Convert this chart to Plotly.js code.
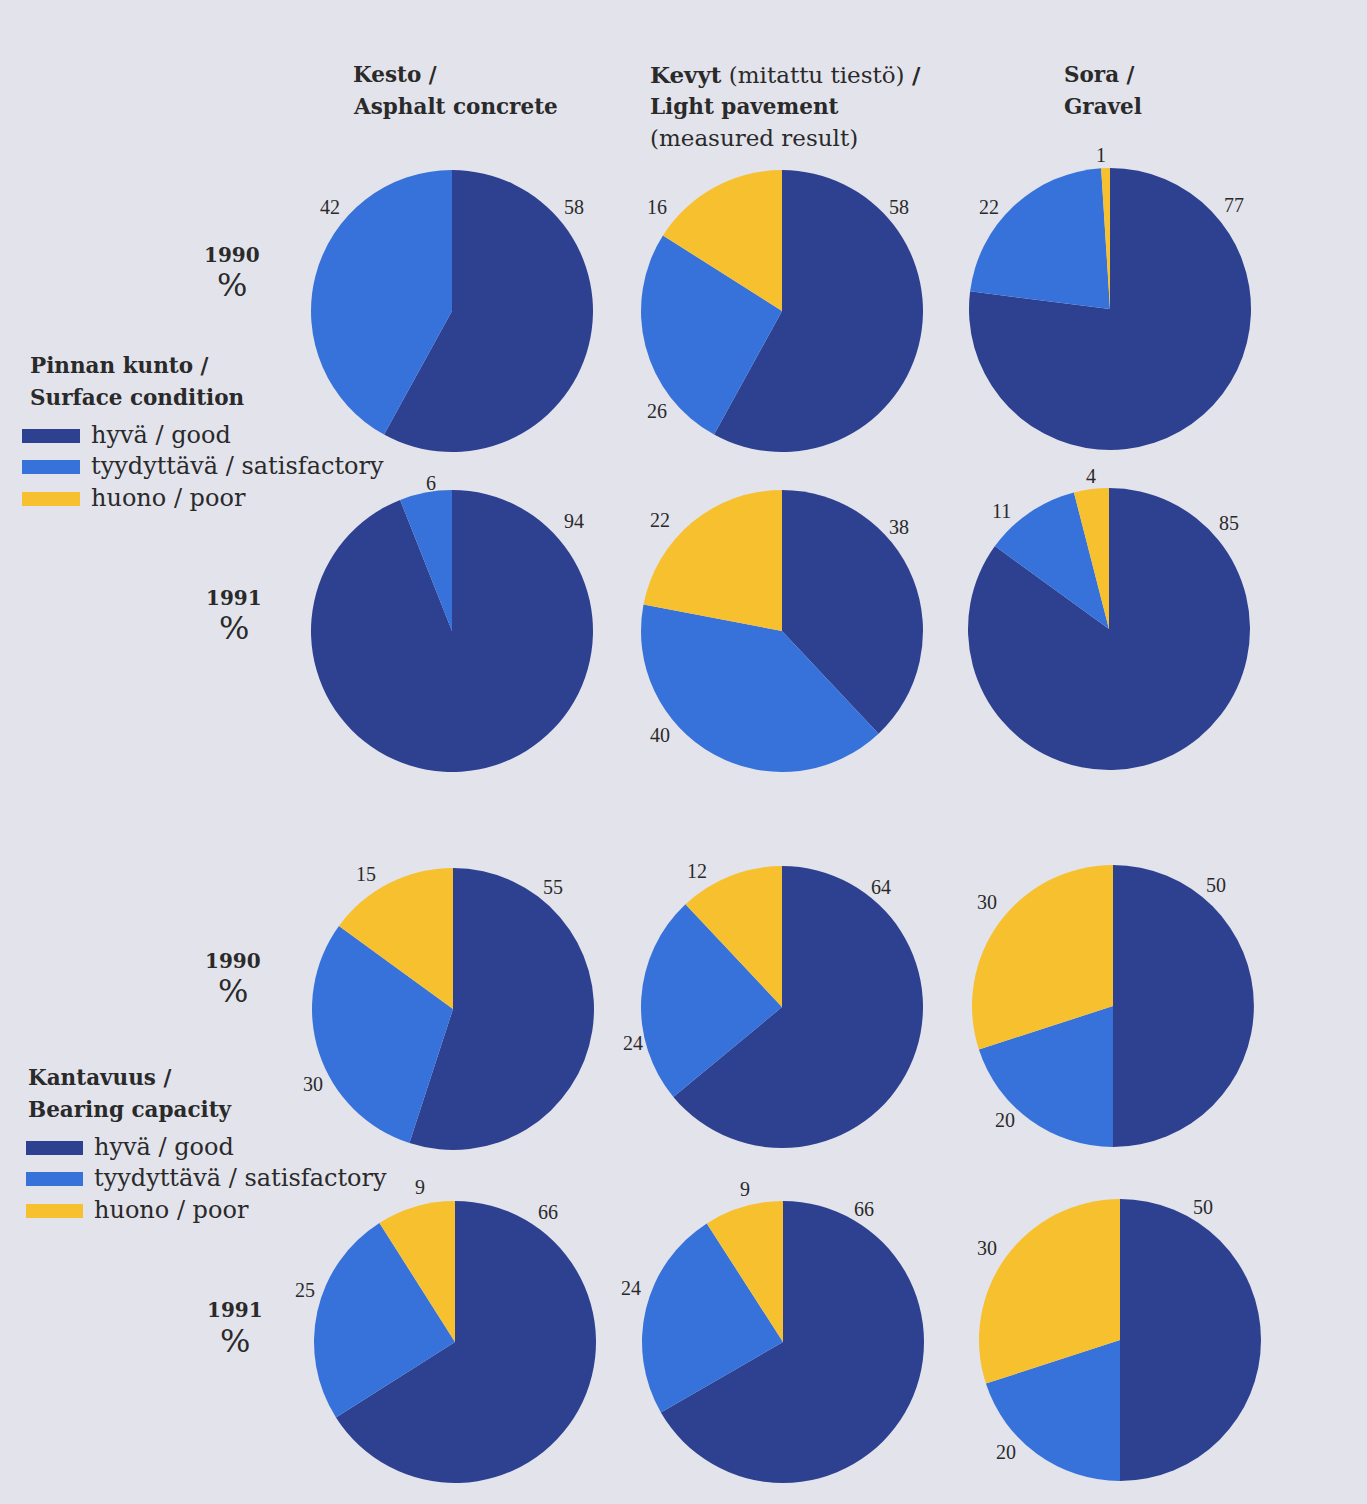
<!DOCTYPE html>
<html>
<head>
<meta charset="utf-8">
<script src="https://cdn.plot.ly/plotly-3.0.1.min.js"></script>
<style>
html,body{margin:0;padding:0;background:#e3e3ec;}
#chart{width:1367px;height:1504px;}
</style>
</head>
<body>
<div id="chart"></div>
<script>
// ---------- DATA ----------
const categories = ["hyvä / good", "tyydyttävä / satisfactory", "huono / poor"];
const roadTypes = ["Kesto", "Kevyt", "Sora"];
const years = ["1990", "1991"];

// Pinnan kunto / Surface condition  [good, satisfactory, poor]
const surface1990Kesto = [58, 42, 0];
const surface1990Kevyt = [58, 26, 16];
const surface1990Sora  = [77, 22, 1];
const surface1991Kesto = [94, 6, 0];
const surface1991Kevyt = [38, 40, 22];
const surface1991Sora  = [85, 11, 4];

// Kantavuus / Bearing capacity  [good, satisfactory, poor]
const bearing1990Kesto = [55, 30, 15];
const bearing1990Kevyt = [64, 24, 12];
const bearing1990Sora  = [50, 20, 30];
const bearing1991Kesto = [66, 25, 9];
const bearing1991Kevyt = [66, 24, 9];
const bearing1991Sora  = [50, 20, 30];

// ---------- LAYOUT / STYLE ----------
const W = 1367, H = 1504;
const colors = ["#2e4190", "#3672da", "#f7c02f"];
const serif = "Liberation Serif, Times New Roman, serif";
const wide = "DejaVu Serif, serif";
const textCol = "#2a2a2a";

// pie centres (px) and radius
const R = 141;
const pies = [
  {v: surface1990Kesto, c: [452, 311], lab: [[574,207],[330,207],null]},
  {v: surface1990Kevyt, c: [782, 311], lab: [[899,207],[657,411],[657,207]]},
  {v: surface1990Sora,  c: [1110, 309], lab: [[1234,205],[989,207],[1101,155]]},
  {v: surface1991Kesto, c: [452, 631], lab: [[574,521],[431,483],null]},
  {v: surface1991Kevyt, c: [782, 631], lab: [[899,527],[660,735],[660,520]]},
  {v: surface1991Sora,  c: [1109, 629], lab: [[1229,523],[1001,511],[1091,476]]},
  {v: bearing1990Kesto, c: [453, 1009], lab: [[553,887],[313,1084],[366,874]]},
  {v: bearing1990Kevyt, c: [782, 1007], lab: [[881,887],[633,1043],[697,871]]},
  {v: bearing1990Sora,  c: [1113, 1006], lab: [[1216,885],[1005,1120],[987,902]]},
  {v: bearing1991Kesto, c: [455, 1342], lab: [[548,1212],[305,1290],[420,1187]]},
  {v: bearing1991Kevyt, c: [783, 1342], lab: [[864,1209],[631,1288],[745,1189]]},
  {v: bearing1991Sora,  c: [1120, 1340], lab: [[1203,1207],[1006,1452],[987,1248]]}
];

const px = x => x / W;
const py = y => 1 - y / H;

const traces = pies.map(p => ({
  type: "pie",
  labels: categories,
  values: p.v,
  sort: false,
  direction: "clockwise",
  rotation: 0,
  textinfo: "none",
  hoverinfo: "label+value",
  showlegend: false,
  marker: {colors: colors, line: {width: 0}},
  domain: {x: [px(p.c[0] - R), px(p.c[0] + R)], y: [py(p.c[1] + R), py(p.c[1] - R)]}
}));

const annotations = [];
const shapes = [];
function txt(x, y, text, size, xanchor, family) {
  annotations.push({
    xref: "paper", yref: "paper", x: px(x), y: py(y), text: text,
    showarrow: false, xanchor: xanchor || "center", yanchor: "middle",
    font: {family: family || serif, size: size, color: textCol}
  });
}

// value labels
pies.forEach(p => {
  p.v.forEach((val, i) => {
    if (val > 0 && p.lab[i]) txt(p.lab[i][0], p.lab[i][1], String(val), 20, "center");
  });
});

// column headers
const hb = 21.5;
txt(351, 75, "<b>Kesto /</b>", hb, "left", wide);
txt(351, 107, "<b>Asphalt concrete</b>", hb, "left", wide);
txt(648, 75, "<b>Kevyt</b> (mitattu tiestö) <b>/</b>", 23, "left", wide);
txt(648, 107, "<b>Light pavement</b>", hb, "left", wide);
txt(648, 138, "(measured result)", 23, "left", wide);
txt(1062, 75, "<b>Sora /</b>", hb, "left", wide);
txt(1062, 107, "<b>Gravel</b>", hb, "left", wide);

// row labels
const rowLabels = [[232, 255, 285, years[0]], [234, 598, 628, years[1]], [233, 961, 991, years[0]], [235, 1310, 1341, years[1]]];
rowLabels.forEach(r => {
  txt(r[0], r[1], "<b>" + r[3] + "</b>", 20, "center", wide);
  txt(r[0], r[2], "%", 32, "center", wide);
});

// legends
function legend(x0, sx0, sx1, tx, y1, y2, title1, title2, ys) {
  txt(x0, y1, "<b>" + title1 + "</b>", hb, "left", wide);
  txt(x0, y2, "<b>" + title2 + "</b>", hb, "left", wide);
  categories.forEach((c, i) => {
    shapes.push({type: "rect", xref: "paper", yref: "paper",
      x0: px(sx0), x1: px(sx1), y0: py(ys[i] + 7), y1: py(ys[i] - 7),
      fillcolor: colors[i], line: {width: 0}});
    txt(tx, ys[i] - 1, c, 24, "left", wide);
  });
}
legend(28, 22, 80, 89, 365, 397, "Pinnan kunto /", "Surface condition", [436, 467, 499]);
legend(26, 26, 83, 92, 1077, 1109, "Kantavuus /", "Bearing capacity", [1148, 1179, 1211]);

const layout = {
  width: W, height: H,
  margin: {l: 0, r: 0, t: 0, b: 0},
  paper_bgcolor: "#e3e3ec",
  plot_bgcolor: "#e3e3ec",
  showlegend: false,
  annotations: annotations,
  shapes: shapes
};

Plotly.newPlot("chart", traces, layout, {displayModeBar: false, staticPlot: true});
</script>
</body>
</html>
